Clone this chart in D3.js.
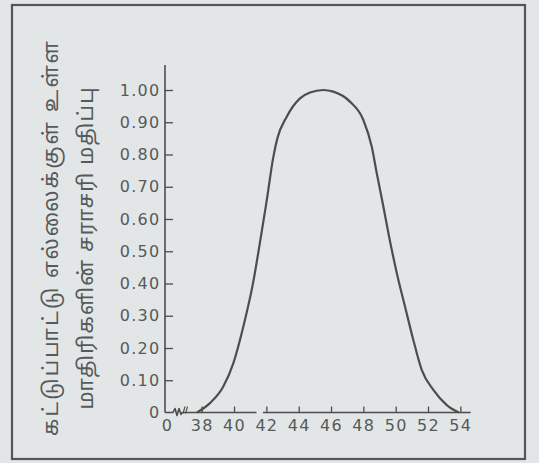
<!DOCTYPE html>
<html>
<head>
<meta charset="utf-8">
<script src="https://cdn.jsdelivr.net/npm/d3@7"></script>
<style>
  html, body { margin: 0; padding: 0; background: #e3e6e6; }
  svg { display: block; }
</style>
</head>
<body>
<svg id="chart" width="539" height="463"></svg>
<script>
// ---- data ----
const xValues = [37.71, 38.51, 39.32, 39.96, 40.57, 41.19, 41.61, 42.01, 42.43, 42.68, 43.26, 44.08, 44.70, 45.52, 46.14, 47.17, 48.0, 48.52, 48.83, 49.24, 49.55, 50.07, 50.58, 51.09, 51.61, 52.33, 53.16, 53.9];
const yValues = [0.0, 0.029, 0.079, 0.153, 0.265, 0.405, 0.529, 0.653, 0.792, 0.850, 0.917, 0.974, 0.992, 1.0, 0.995, 0.964, 0.907, 0.824, 0.742, 0.638, 0.556, 0.432, 0.328, 0.225, 0.132, 0.070, 0.023, 0.0];
const xTicks = [38, 40, 42, 44, 46, 48, 50, 52, 54];
const xOriginLabel = "0";
const yTicks = [0.1, 0.2, 0.3, 0.4, 0.5, 0.6, 0.7, 0.8, 0.9, 1.0];
const yOriginLabel = "0";
const yTitleLines = ["கட்டுப்பாட்டு எல்லைக்குள் உள்ள", "மாதிரிகளின் சராசரி மதிப்பு"];

// ---- layout ----
const svg = d3.select("#chart");
const ink = "#4d4d4d";
const textInk = "#555a5a";
const numFont = "'DejaVu Sans', sans-serif";
const numSize = 16;
const numSpacing = "1.3px";

const x = d3.scaleLinear().domain([35.73, 54.64]).range([165, 470.7]);
const y = d3.scaleLinear().domain([0, 1.0]).range([412.5, 90]);

// frame
svg.append("rect")
  .attr("x", 12).attr("y", 5).attr("width", 513).attr("height", 454)
  .attr("fill", "none").attr("stroke", "#555").attr("stroke-width", 2.2);

// y axis
const yAxis = svg.append("g").attr("transform", `translate(${x.range()[0]},0)`)
  .call(d3.axisLeft(y).tickValues(yTicks).tickFormat(d3.format(".2f"))
        .tickSizeInner(-8).tickSizeOuter(0).tickPadding(4.5));
yAxis.select(".domain").remove();
yAxis.selectAll(".tick line").attr("stroke", ink).attr("stroke-width", 1.3);
yAxis.selectAll("text")
  .attr("fill", textInk).attr("font-family", numFont)
  .attr("font-size", numSize).style("letter-spacing", numSpacing);

svg.append("line")
  .attr("x1", x.range()[0]).attr("x2", x.range()[0])
  .attr("y1", y(1.0775)).attr("y2", y(0))
  .attr("stroke", ink).attr("stroke-width", 1.6);

svg.append("text").text(yOriginLabel)
  .attr("x", x.range()[0] - 4.5).attr("y", y(0)).attr("dy", "0.32em")
  .attr("text-anchor", "end")
  .attr("fill", textInk).attr("font-family", numFont)
  .attr("font-size", numSize).style("letter-spacing", numSpacing);

// x axis
const xAxis = svg.append("g").attr("transform", `translate(0,${y(0)})`)
  .call(d3.axisBottom(x).tickValues(xTicks).tickFormat(d3.format("d"))
        .tickSizeInner(-6).tickSizeOuter(0).tickPadding(7));
xAxis.select(".domain").remove();
xAxis.selectAll(".tick line").attr("stroke", ink).attr("stroke-width", 1.3);
xAxis.selectAll("text")
  .attr("fill", textInk).attr("font-family", numFont)
  .attr("font-size", numSize).style("letter-spacing", numSpacing);

svg.append("text").text(xOriginLabel)
  .attr("x", x.range()[0] + 2.5).attr("y", y(0) + 7).attr("dy", "0.71em")
  .attr("text-anchor", "middle")
  .attr("fill", textInk).attr("font-family", numFont)
  .attr("font-size", numSize).style("letter-spacing", numSpacing);

// broken baseline: zigzag break after the origin and a gap before 42
const y0 = y(0);
const x0 = x.range()[0];
const base = d3.path();
base.moveTo(x0, y0);
base.lineTo(x0 + 8, y0);
base.lineTo(x0 + 10, y0 - 4);
base.lineTo(x0 + 12, y0 + 3);
base.lineTo(x0 + 14, y0 - 4);
base.lineTo(x0 + 16, y0 + 2);
base.lineTo(x0 + 17, y0);
base.lineTo(x(41.39), y0);
base.moveTo(x(41.79), y0);
base.lineTo(x.range()[1], y0);
svg.append("path").attr("d", base.toString())
  .attr("fill", "none").attr("stroke", ink).attr("stroke-width", 1.6)
  .attr("stroke-linejoin", "round");
const brk = d3.path();
brk.moveTo(x0 + 18, y0 + 1); brk.lineTo(x0 + 20, y0 - 6);
brk.moveTo(x0 + 20.5, y0 + 1); brk.lineTo(x0 + 22.5, y0 - 6);
svg.append("path").attr("d", brk.toString())
  .attr("fill", "none").attr("stroke", ink).attr("stroke-width", 1.1);

// curve
const pts = xValues.map((v, i) => [v, yValues[i]]);
const line = d3.line().x(d => x(d[0])).y(d => y(d[1])).curve(d3.curveMonotoneX);
svg.append("path").datum(pts).attr("d", line)
  .attr("fill", "none").attr("stroke", ink).attr("stroke-width", 2.2)
  .attr("stroke-linejoin", "round");

// y title (rotated, two lines)
const titleX = [51, 86];
const titleY = [238.5, 248.5];
const titleLen = [395, 322];
yTitleLines.forEach((t, i) => {
  svg.append("text").text(t)
    .attr("transform", `translate(${titleX[i]},${titleY[i]}) rotate(-90)`)
    .attr("text-anchor", "middle").attr("dy", "0.35em")
    .attr("textLength", titleLen[i]).attr("lengthAdjust", "spacing")
    .attr("fill", textInk)
    .attr("font-family", "'Noto Sans Tamil', 'Lohit Tamil', 'Noto Sans', sans-serif")
    .attr("font-size", 21);
});
</script>
</body>
</html>
